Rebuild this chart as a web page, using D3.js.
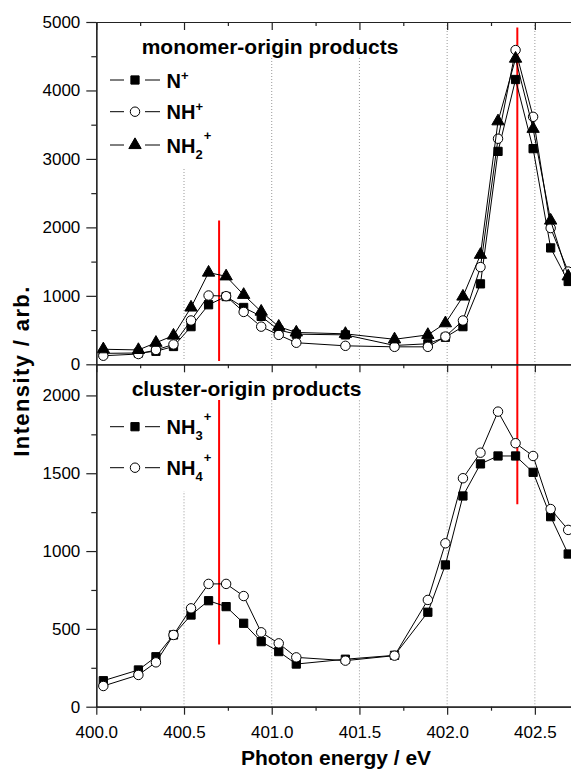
<!DOCTYPE html>
<html>
<head>
<meta charset="utf-8">
<script src="https://cdn.jsdelivr.net/npm/d3@7"></script>
<style>
  body { margin: 0; background: #fff; }
  text { font-family: "Liberation Sans", Arial, sans-serif; }
</style>
</head>
<body>
<div id="chart"></div>
<script>
// photon energies (eV), shared by both panels
var energy = [400.04, 400.24, 400.34, 400.44, 400.54, 400.64, 400.74, 400.84, 400.94, 401.04, 401.14,
              401.42, 401.70, 401.89, 401.99, 402.09, 402.19, 402.29, 402.39, 402.49, 402.59, 402.69];

// monomer-origin products
var nPlus   = [160, 165, 190, 260, 550, 870, 990, 830, 700, 500, 440, 430, 275, 300, 395, 550, 1175, 3110, 4160, 3150, 1700, 1210];
var nhPlus  = [125, 150, 210, 290, 640, 1005, 995, 765, 550, 430, 315, 270, 255, 255, 405, 640, 1420, 3295, 4590, 3615, 1990, 1355];
var nh2Plus = [220, 210, 315, 420, 830, 1340, 1285, 1015, 770, 550, 465, 445, 365, 430, 600, 990, 1600, 3550, 4465, 3440, 2100, 1285];

// cluster-origin products
var nh3Plus = [167, 236, 321, 461, 589, 681, 643, 536, 418, 354, 274, 305, 330, 607, 911, 1354, 1560, 1611, 1611, 1506, 1221, 981];
var nh4Plus = [133, 204, 285, 461, 632, 789, 789, 711, 478, 407, 317, 296, 328, 686, 1050, 1468, 1632, 1896, 1693, 1611, 1270, 1136];

// red markers: energy, upper end (top panel value), lower end (bottom panel value)
var redEnergy = [400.7, 402.4];
var redTop    = [2100, 4920];
var redBottom = [400, 1300];

var xMajor = [400.0, 400.5, 401.0, 401.5, 402.0, 402.5];
var xMinor = [400.25, 400.75, 401.25, 401.75, 402.25];
var topMajor = [0, 1000, 2000, 3000, 4000, 5000];
var topMinor = [500, 1500, 2500, 3500, 4500];
var botMajor = [0, 500, 1000, 1500, 2000];
var botMinor = [250, 750, 1250, 1750];

var width = 571, height = 776;
var plotLeft = 96.3, plotRight = 571, plotTop = 22, plotMid = 364.3, plotBottom = 706.7;

var svg = d3.select("#chart").append("svg")
  .attr("width", width)
  .attr("height", height);

var x = d3.scaleLinear().domain([400, 402.706]).range([plotLeft, plotRight]);
var yTop = d3.scaleLinear().domain([0, 5000]).range([plotMid, plotTop]);
var yBot = d3.scaleLinear().domain([0, 2200]).range([plotBottom, plotMid]);

// dotted gridlines
function grid(y0, y1) {
  svg.append("g").selectAll("line")
    .data(xMajor.slice(1))
    .enter().append("line")
    .attr("x1", function(d) { return x(d); })
    .attr("x2", function(d) { return x(d); })
    .attr("y1", y0).attr("y2", y1)
    .attr("stroke", "#999")
    .attr("stroke-width", 1)
    .attr("stroke-dasharray", "1,2");
}
grid(plotTop, plotMid);
grid(plotMid, plotBottom);

// red lines
svg.append("g").selectAll("line")
  .data(redEnergy)
  .enter().append("line")
  .attr("x1", function(d) { return x(d); })
  .attr("x2", function(d) { return x(d); })
  .attr("y1", function(d, i) { return yTop(redTop[i]); })
  .attr("y2", function(d, i) { return yBot(redBottom[i]); })
  .attr("stroke", "#ff0000")
  .attr("stroke-width", 2);

// symbols
var symbolPath = {
  square:   d3.symbol().type(d3.symbolSquare).size(68)(),
  circle:   d3.symbol().type(d3.symbolCircle).size(70)(),
  triangle: d3.symbol().type(d3.symbolTriangle).size(66)()
};
function styleSym(sel, sym) {
  sel.attr("d", symbolPath[sym])
    .attr("fill", sym === "circle" ? "#fff" : "#000")
    .attr("stroke", "#000")
    .attr("stroke-width", 1);
}

// title + legend with white background
function legendBlock(title, titleX, titleY, items, rowY) {
  var bgT = svg.append("rect").attr("fill", "#fff");
  var bgL = svg.append("rect").attr("fill", "#fff");
  var t = svg.append("text")
    .attr("x", titleX).attr("y", titleY)
    .style("font-size", "21px").style("font-weight", "bold")
    .text(title);
  var g = svg.append("g");
  items.forEach(function(it, i) {
    var yy = rowY[i];
    g.append("line").attr("x1", 110).attr("x2", 124).attr("y1", yy).attr("y2", yy).attr("stroke", "#000");
    g.append("line").attr("x1", 145).attr("x2", 160).attr("y1", yy).attr("y2", yy).attr("stroke", "#000");
    g.append("path").attr("transform", "translate(135," + yy + ")").call(styleSym, it.sym);
    var lab = g.append("text")
      .attr("x", 166.5).attr("y", yy + 7.5)
      .style("font-size", "20px").style("font-weight", "bold");
    lab.append("tspan").text(it.name);
    if (it.sub) {
      lab.append("tspan").attr("dy", 6).style("font-size", "13px").text(it.sub);
      lab.append("tspan").attr("dy", -19).attr("dx", 1).style("font-size", "13px").text("+");
    } else {
      lab.append("tspan").attr("dy", -8).style("font-size", "13px").text("+");
    }
  });
  var tb = t.node().getBBox();
  bgT.attr("x", tb.x - 3).attr("y", titleY - 35).attr("width", tb.width + 6).attr("height", tb.y + tb.height - titleY + 35);
  var lb = g.node().getBBox();
  bgL.attr("x", lb.x - 3).attr("y", titleY - 35).attr("width", lb.width + 6).attr("height", lb.y + lb.height + 7 - titleY + 35);
}

legendBlock("monomer-origin products", 141.7, 53.5,
  [{name: "N", sym: "square"}, {name: "NH", sym: "circle"}, {name: "NH", sub: "2", sym: "triangle"}],
  [80, 111.7, 145]);
legendBlock("cluster-origin products", 131.7, 396,
  [{name: "NH", sub: "3", sym: "square"}, {name: "NH", sub: "4", sym: "circle"}],
  [426.7, 467.7]);

// series
function series(vals, y, sym) {
  var line = d3.line()
    .x(function(d, i) { return x(energy[i]); })
    .y(function(d) { return y(d); });
  svg.append("path").datum(vals)
    .attr("d", line)
    .attr("fill", "none")
    .attr("stroke", "#000")
    .attr("stroke-width", 1);
  svg.append("g").selectAll("path")
    .data(vals)
    .enter().append("path")
    .attr("transform", function(d, i) { return "translate(" + x(energy[i]) + "," + y(d) + ")"; })
    .call(styleSym, sym);
}
series(nPlus, yTop, "square");
series(nhPlus, yTop, "circle");
series(nh2Plus, yTop, "triangle");
series(nh3Plus, yBot, "square");
series(nh4Plus, yBot, "circle");

// axes
function styleAxis(g) {
  g.selectAll("path, line").attr("stroke", "#222").attr("stroke-width", 1.2);
  g.selectAll("text").style("font-size", "17px").attr("fill", "#000");
}

svg.append("g").attr("transform", "translate(0," + plotBottom + ")")
  .call(d3.axisBottom(x).tickValues(xMajor).tickSize(8).tickSizeOuter(0).tickPadding(11).tickFormat(d3.format(".1f")))
  .call(styleAxis);
svg.append("g").attr("transform", "translate(0," + plotBottom + ")")
  .call(d3.axisBottom(x).tickValues(xMinor).tickSize(4).tickSizeOuter(0).tickFormat(""))
  .call(styleAxis);

[plotTop, plotMid].forEach(function(yy) {
  svg.append("g").attr("transform", "translate(0," + yy + ")")
    .call(d3.axisBottom(x).tickValues(xMajor).tickSize(8).tickSizeOuter(0).tickFormat(""))
    .call(styleAxis);
  svg.append("g").attr("transform", "translate(0," + yy + ")")
    .call(d3.axisBottom(x).tickValues(xMinor).tickSize(4).tickSizeOuter(0).tickFormat(""))
    .call(styleAxis);
});

function yAxis(scale, major, minor) {
  svg.append("g").attr("transform", "translate(" + plotLeft + ",0)")
    .call(d3.axisLeft(scale).tickValues(major).tickSize(10).tickSizeOuter(0).tickPadding(6).tickFormat(d3.format("d")))
    .call(styleAxis);
  svg.append("g").attr("transform", "translate(" + plotLeft + ",0)")
    .call(d3.axisLeft(scale).tickValues(minor).tickSize(5).tickSizeOuter(0).tickFormat(""))
    .call(styleAxis);
}
yAxis(yTop, topMajor, topMinor);
yAxis(yBot, botMajor, botMinor);

// axis titles
svg.append("text")
  .attr("x", 336).attr("y", 765)
  .attr("text-anchor", "middle")
  .style("font-size", "21px").style("font-weight", "bold")
  .text("Photon energy / eV");

svg.append("text")
  .attr("transform", "translate(29.3,371.7) rotate(-90)")
  .attr("text-anchor", "middle")
  .attr("textLength", 170)
  .style("font-size", "22px").style("font-weight", "bold")
  .text("Intensity / arb.");
</script>
</body>
</html>
